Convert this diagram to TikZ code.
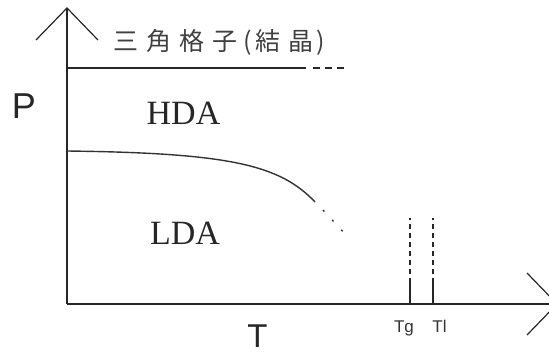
\documentclass[tikz,border=0pt]{standalone}
\usepackage{fontspec}
\setmainfont{Liberation Serif}
\newfontfamily\cjk{Noto Sans CJK JP}
\newfontfamily\sanslab{Liberation Sans}
\begin{document}
\begin{tikzpicture}[x=1pt,y=-1pt,
  axis/.style={line width=1.6pt,black!85},
  phase/.style={line width=1.4pt,black!80},
  region/.style={font=\fontsize{34}{34}\selectfont,inner sep=0pt,black!85},
  axlab/.style={font=\sanslab\fontsize{36}{36}\selectfont,inner sep=0pt,black!85},
  small/.style={font=\sanslab\fontsize{17}{17}\selectfont,inner sep=0pt,black!80},
  guide/.style={line width=1.3pt,black!85}]
\useasboundingbox (0,0) rectangle (549,354);
\clip (0,0) rectangle (549,354);
% axes
\coordinate (O) at (67,304);
\coordinate (Ytop) at (67,8);
\coordinate (Xend) at (557,304);
\coordinate (Yl) at (36,40);
\coordinate (Yr) at (98,40);
\coordinate (Xu) at (527,273);
\coordinate (Xd) at (527,335);
\draw[axis] (O) -- (Ytop);
\draw[axis] (O) -- (Xend);
\draw[line width=1.2pt,black!85] (Yl) -- (Ytop) -- (Yr);
\draw[line width=1.2pt,black!85] (Xu) -- (Xend) -- (Xd);
% crystal boundary
\coordinate (C0) at (67,68);
\coordinate (C1) at (306,68);
\coordinate (C2) at (313,68);
\coordinate (C3) at (346,68);
\draw[axis] (C0) -- (C1);
\draw[axis,dash pattern=on 7pt off 5pt] (C2) -- (C3);
% HDA/LDA boundary
\coordinate (H0) at (67,151);
\coordinate (H1) at (315,202);
\coordinate (H2) at (323,210);
\coordinate (H3) at (346,235);
\draw[phase] (H0) .. controls (230,153) and (280,165) .. (H1);
\draw[line width=1.4pt,black!80,dash pattern=on 2pt off 11.5pt] (H2) -- (H3);
% Tg, Tl
\coordinate (G0) at (410,304);
\coordinate (G1) at (410,283);
\coordinate (G2) at (410,218);
\coordinate (L0) at (433,304);
\coordinate (L1) at (433,283);
\coordinate (L2) at (433,218);
\draw[guide] (G0) -- (G1);
\draw[guide,dash pattern=on 5pt off 4pt] (G1) -- (G2);
\draw[guide] (L0) -- (L1);
\draw[guide,dash pattern=on 5pt off 4pt] (L1) -- (L2);
% labels
\node[region] (hda) at (183.5,113.5) {HDA};
\node[region] (lda) at (185,233.5) {LDA};
\node[axlab] (P) at (24,106) {P};
\node[axlab,font=\sanslab\fontsize{33}{33}\selectfont,anchor=base] (T) at (257.5,347) {T};
\node[small,anchor=base] (Tg) at (404,332) {Tg};
\node[small,anchor=base] (Tl) at (439.5,332) {Tl};
\node[font=\cjk\fontsize{25}{25}\selectfont,inner sep=0pt,black!75] (xtal) at (219,42)
  {三\kern8pt角\kern8pt格\kern8pt子\kern6pt(\kern3pt結\kern8pt晶\kern3pt)};
\end{tikzpicture}
\end{document}
